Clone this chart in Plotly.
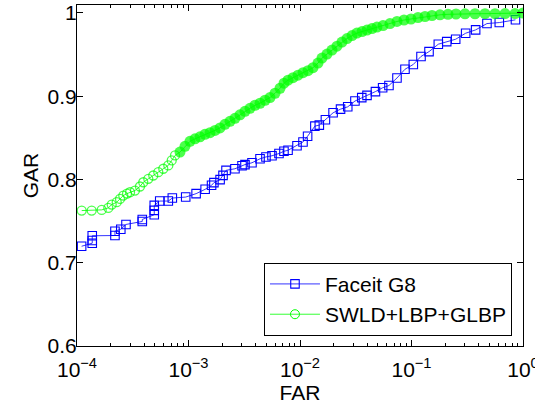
import plotly.graph_objects as go

# Faceit G8 (blue squares)
far_g8 = [1.10e-4, 1.37e-4, 1.37e-4, 1.37e-4, 2.19e-4, 2.19e-4, 2.47e-4, 2.75e-4,
          3.85e-4, 3.85e-4, 4.93e-4, 4.93e-4, 4.93e-4, 5.52e-4, 6.59e-4, 7.16e-4,
          9.44e-4, 1.17e-3, 1.41e-3, 1.61e-3, 1.69e-3, 1.92e-3, 2.04e-3, 2.17e-3,
          2.61e-3, 3.02e-3, 3.21e-3, 3.71e-3, 4.38e-3, 4.95e-3, 5.61e-3, 6.48e-3,
          7.18e-3, 7.81e-3, 9.40e-3, 1.064e-2, 1.17e-2, 1.36e-2, 1.49e-2, 1.69e-2,
          1.98e-2, 2.31e-2, 2.68e-2, 3.11e-2, 3.58e-2, 3.99e-2, 4.75e-2, 5.51e-2,
          6.28e-2, 7.41e-2, 8.74e-2, 0.1038, 0.1217, 0.1436, 0.174, 0.207,
          0.249, 0.306, 0.376, 0.475, 0.613, 0.856]
gar_g8 = [0.7198, 0.7235, 0.7267, 0.7324, 0.7327, 0.7379, 0.7403, 0.7460,
          0.7496, 0.7520, 0.7577, 0.7629, 0.7689, 0.7741, 0.7741, 0.7777,
          0.7789, 0.7830, 0.7882, 0.7930, 0.7962, 0.7998, 0.8050, 0.8110,
          0.8129, 0.8165, 0.8179, 0.8201, 0.8249, 0.8271, 0.8285, 0.8312,
          0.8339, 0.8351, 0.8406, 0.8451, 0.8520, 0.8641, 0.8653, 0.8717,
          0.8801, 0.8845, 0.8873, 0.8942, 0.8984, 0.9010, 0.9056, 0.9102,
          0.9129, 0.9219, 0.9324, 0.9382, 0.9478, 0.9536, 0.9625, 0.9656,
          0.9685, 0.9757, 0.9797, 0.9873, 0.9885, 0.9918]

# SWLD+LBP+GLBP (green circles)
far_swld = [1.102e-4, 1.354e-4, 1.665e-4, 1.909e-4, 2.048e-4, 2.27e-4, 2.43e-4, 2.60e-4,
            2.81e-4, 2.99e-4, 3.31e-4, 3.67e-4, 3.93e-4, 4.36e-4, 4.83e-4, 5.36e-4,
            5.94e-4, 6.59e-4, 7.07e-4, 7.57e-4, 8.39e-4, 9.30e-4, 1.031e-3, 1.144e-3,
            1.268e-3, 1.406e-3, 1.559e-3, 1.729e-3, 1.917e-3, 2.125e-3, 2.357e-3, 2.612e-3,
            2.896e-3, 3.211e-3, 3.56e-3, 3.95e-3, 4.38e-3, 4.86e-3, 5.38e-3, 5.97e-3,
            6.62e-3, 7.19e-3, 7.81e-3, 8.65e-3, 9.60e-3, 1.064e-2, 1.179e-2, 1.308e-2,
            1.450e-2, 1.575e-2, 1.747e-2, 1.936e-2, 2.147e-2, 2.38e-2, 2.64e-2, 2.93e-2,
            3.24e-2, 3.60e-2, 3.99e-2, 4.42e-2, 4.90e-2, 5.55e-2, 6.41e-2, 7.41e-2,
            8.57e-2, 9.90e-2, 0.1144, 0.1322, 0.1527, 0.180, 0.2125, 0.2506,
            0.3018, 0.371, 0.456, 0.561, 0.690, 0.848, 1.0]
gar_swld = [0.7627, 0.7627, 0.7635, 0.7659, 0.7699, 0.7727, 0.7767, 0.7807,
            0.7831, 0.7847, 0.7867, 0.7916, 0.7967, 0.8008, 0.8048, 0.8088,
            0.8129, 0.8169, 0.8229, 0.8289, 0.8329, 0.8398, 0.8458, 0.8488,
            0.8512, 0.8542, 0.8563, 0.8590, 0.8620, 0.8663, 0.8699, 0.8735,
            0.8777, 0.8819, 0.8855, 0.8892, 0.8916, 0.8952, 0.8984, 0.9036,
            0.9096, 0.9157, 0.9193, 0.9223, 0.9253, 0.9283, 0.9307, 0.9343,
            0.9398, 0.9458, 0.9506, 0.9554, 0.9602, 0.9651, 0.9693, 0.9729,
            0.9759, 0.9777, 0.9795, 0.9813, 0.9831, 0.9849, 0.9873, 0.9898,
            0.9916, 0.9928, 0.9946, 0.9958, 0.9970, 0.9978, 0.9984, 0.9988,
            0.9990, 0.9991, 0.9992, 0.9992, 0.9993, 0.9993, 1.0]

x_tickvals = [1e-4, 1e-3, 1e-2, 1e-1, 1e0]
x_ticktext = ["10<sup>−4</sup>", "10<sup>−3</sup>", "10<sup>−2</sup>", "10<sup>−1</sup>", "10<sup>0</sup>"]
y_tickvals = [0.6, 0.7, 0.8, 0.9, 1.0]
y_ticktext = ["0.6", "0.7", "0.8", "0.9", "1"]

FONT = "Liberation Sans, Arial, sans-serif"

# sparse start: thin open rings; dense part: rings pile up into a solid band
N_OPEN = 20
green_sym = ["circle-open" if i < N_OPEN else "circle" for i in range(len(far_swld))]
green_size = [9 if i < N_OPEN else 11 for i in range(len(far_swld))]
green_lw = [1.3 if i < N_OPEN else 0 for i in range(len(far_swld))]

fig = go.Figure()
fig.add_trace(go.Scatter(
    x=far_g8, y=gar_g8, mode="lines+markers", name="Faceit G8",
    line=dict(color="#0000ff", width=0.8),
    marker=dict(symbol="square-open", size=8.5, color="#0000ff", line=dict(width=1.1, color="#0000ff")),
))
fig.add_trace(go.Scatter(
    x=far_swld, y=gar_swld, mode="lines+markers", name="SWLD+LBP+GLBP", showlegend=False,
    line=dict(color="#00ff00", width=0.8),
    marker=dict(symbol=green_sym, size=green_size, color="#00ff00", line=dict(width=green_lw, color="#00ff00")),
))
# legend entry with a thin open ring, as in the original legend
fig.add_trace(go.Scatter(
    x=[None], y=[None], mode="lines+markers", name="SWLD+LBP+GLBP",
    line=dict(color="#00ff00", width=0.8),
    marker=dict(symbol="circle-open", size=9, color="#00ff00", line=dict(width=1, color="#00ff00")),
))

fig.update_layout(
    width=535, height=404,
    margin=dict(l=77, r=12, t=5, b=58, autoexpand=False),
    paper_bgcolor="white", plot_bgcolor="white",
    font=dict(family=FONT, size=21, color="black"),
    showlegend=True,
    legend=dict(
        x=0.9753, y=0.03, xanchor="right", yanchor="bottom",
        bgcolor="white", bordercolor="black", borderwidth=1,
        font=dict(family=FONT, size=21, color="black"),
        itemwidth=50, tracegroupgap=0,
    ),
)
fig.update_xaxes(
    type="log", range=[-4, 0],
    tickvals=x_tickvals, ticktext=x_ticktext,
    ticks="inside", ticklen=6, tickwidth=1, tickcolor="black",
    showline=True, linecolor="black", linewidth=1, mirror="ticks",
    showgrid=False, zeroline=False, ticklabeloverflow="allow",
    ticklabelstandoff=5,
    minor=dict(ticks="inside", ticklen=3, tickcolor="black", showgrid=False, dtick="D1"),
    title=dict(text="FAR", standoff=5, font=dict(size=21)),
    tickfont=dict(size=21),
)
fig.update_yaxes(
    range=[0.6, 1.0096],
    tickvals=y_tickvals, ticktext=y_ticktext,
    ticks="inside", ticklen=6, tickwidth=1, tickcolor="black",
    showline=True, linecolor="black", linewidth=1, mirror="ticks",
    showgrid=False, zeroline=False,
    ticklabelstandoff=-5,
    title=dict(text="GAR", standoff=3, font=dict(size=21)),
    tickfont=dict(size=21),
)

fig.write_html("out.html", config={"displayModeBar": False},
               post_script="document.body.style.margin='0';")
